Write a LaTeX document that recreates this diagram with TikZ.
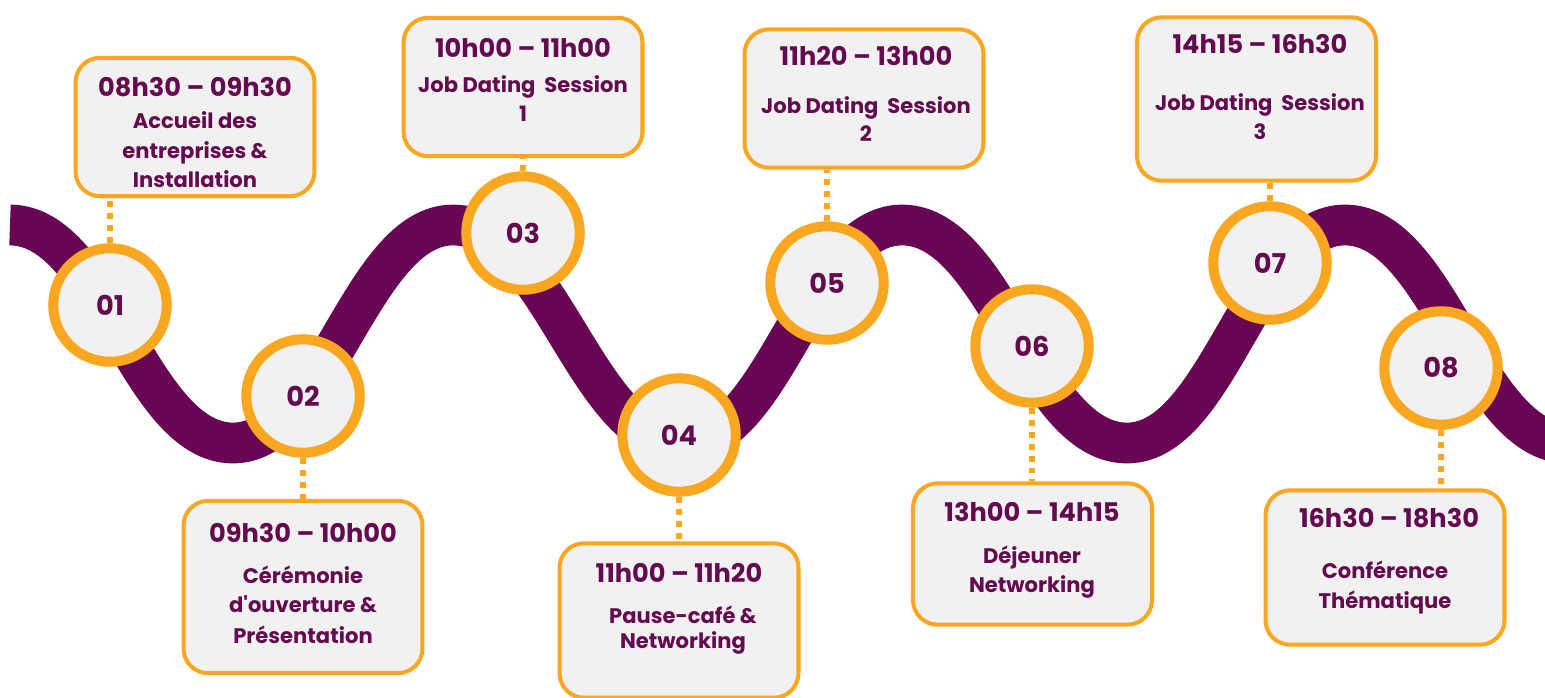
\documentclass[tikz,border=0pt]{standalone}
\usepackage{fontspec}
\setmainfont{Poppins}[Ligatures=TeXOff]
\definecolor{wave}{HTML}{680653}
\definecolor{ring}{HTML}{F9A620}
\definecolor{fillg}{HTML}{F1F1F2}
\definecolor{txt}{HTML}{640A4F}
\tikzset{
  wavepath/.style={draw=wave, line width=23.2pt},
  numcircle/.style={circle, draw=ring, line width=5.7pt, fill=fillg, minimum size=64.6pt, inner sep=0pt, text=txt, font=\bfseries\fontsize{15.5}{18}\selectfont},
  infobox/.style={rectangle, rounded corners=14pt, draw=ring, line width=2.3pt, fill=fillg, minimum width=136pt, inner sep=0pt},
  timetxt/.style={anchor=base, text=txt, font=\bfseries\fontsize{14.6}{18}\selectfont, inner sep=0pt},
  bodytxt/.style={anchor=base, text=txt, font=\bfseries\fontsize{12}{14}\selectfont, inner sep=0pt},
  dotline/.style={draw=ring, line width=3.4pt, dash pattern=on 3.4pt off 3.4pt}
}
\begin{document}
\begin{tikzpicture}[x=0.02cm,y=-0.02cm]
\useasboundingbox (0,0) rectangle (1545,697);
\begin{scope}
\clip (0,0) rectangle (1545,697);
\draw[wavepath] (10,225) .. controls (104,225) and (139,443) .. (233,443)
  .. controls (325,443) and (361,225) .. (453,225)
  .. controls (550,225) and (586,443) .. (683,443)
  .. controls (775,443) and (810,225) .. (902,225)
  .. controls (997,225) and (1032,443) .. (1127,443)
  .. controls (1219,443) and (1253,225) .. (1345,225)
  .. controls (1439,225) and (1474,443) .. (1568,443);
\end{scope}

% boxes
\node[infobox, minimum height=78.8pt] (b1) at (195,127) {};
\node[infobox, minimum height=98.1pt] (b2) at (303,587) {};
\node[infobox, minimum height=78.8pt] (b3) at (523,87) {};
\node[infobox, minimum height=87.9pt] (b4) at (679,620.5) {};
\node[infobox, minimum height=78.8pt] (b5) at (864,98.5) {};
\node[infobox, minimum height=80.5pt] (b6) at (1032.5,554) {};
\node[infobox, minimum height=93.0pt] (b7) at (1256.5,99) {};
\node[infobox, minimum height=87.9pt] (b8) at (1385,567.5) {};

% circles
\node[numcircle] (c1) at (110,305) {01};
\node[numcircle] (c2) at (303,396) {02};
\node[numcircle] (c3) at (523,233) {03};
\node[numcircle] (c4) at (679,435) {04};
\node[numcircle] (c5) at (827,283) {05};
\node[numcircle] (c6) at (1032,346) {06};
\node[numcircle] (c7) at (1270,263) {07};
\node[numcircle] (c8) at (1441,368) {08};

% connectors
\draw[dotline] (c1.north) -- (c1.north |- b1.south);
\draw[dotline] (c2.south) -- (c2.south |- b2.north);
\draw[dotline] (c3.north) -- (c3.north |- b3.south);
\draw[dotline] (c4.south) -- (c4.south |- b4.north);
\draw[dotline] (c5.north) -- (c5.north |- b5.south);
\draw[dotline] (c6.south) -- (c6.south |- b6.north);
\draw[dotline] (c7.north) -- (c7.north |- b7.south);
\draw[dotline] (c8.south) -- (c8.south |- b8.north);

% texts
\node[timetxt] (b1t) at (195,96) {08h30 – 09h30};
\node[bodytxt] (b1a) at (195,128) {Accueil des};
\node[bodytxt] (b1b) at (195,158) {entreprises \&};
\node[bodytxt] (b1c) at (195,187) {Installation};

\node[timetxt] (b2t) at (303,542) {09h30 – 10h00};
\node[bodytxt] (b2a) at (303,583) {Cérémonie};
\node[bodytxt] (b2b) at (303,612) {d'ouverture \&};
\node[bodytxt] (b2c) at (303,643) {Présentation};

\node[timetxt] (b3t) at (523,57) {10h00 – 11h00};
\node[bodytxt] (b3a) at (523,92) {Job Dating\ \ Session};
\node[bodytxt] (b3b) at (523,121) {1};

\node[timetxt] (b4t) at (679,582) {11h00 – 11h20};
\node[bodytxt] (b4a) at (683,623) {Pause-café \&};
\node[bodytxt] (b4b) at (683,648) {Networking};

\node[timetxt] (b5t) at (866,65) {11h20 – 13h00};
\node[bodytxt] (b5a) at (866,113) {Job Dating\ \ Session};
\node[bodytxt] (b5b) at (866,141) {2};

\node[timetxt] (b6t) at (1032,521) {13h00 – 14h15};
\node[bodytxt] (b6a) at (1032,563) {Déjeuner};
\node[bodytxt] (b6b) at (1032,592) {Networking};

\node[timetxt] (b7t) at (1260,53) {14h15 – 16h30};
\node[bodytxt] (b7a) at (1260,110) {Job Dating\ \ Session};
\node[bodytxt] (b7b) at (1260,139) {3};

\node[timetxt] (b8t) at (1389,527) {16h30 – 18h30};
\node[bodytxt] (b8a) at (1385,578) {Conférence};
\node[bodytxt] (b8b) at (1385,608) {Thématique};
\end{tikzpicture}
\end{document}
